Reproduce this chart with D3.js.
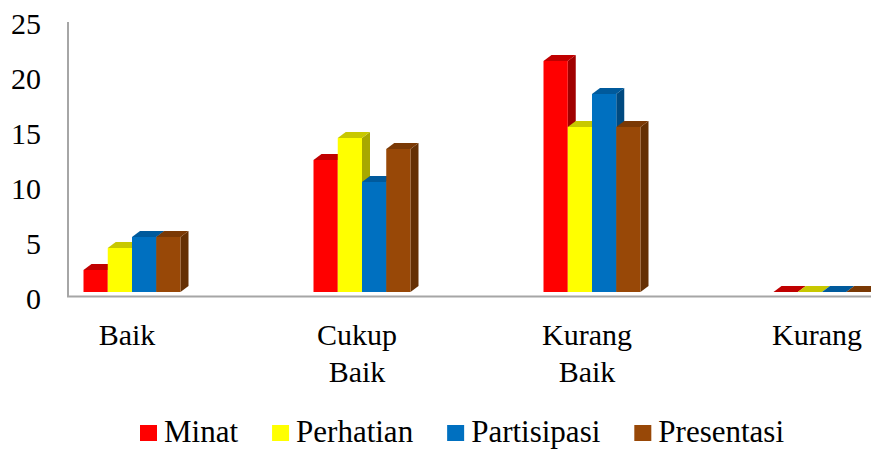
<!DOCTYPE html>
<html>
<head>
<meta charset="utf-8">
<script src="https://cdn.jsdelivr.net/npm/d3@7"></script>
<style>
  html, body { margin: 0; padding: 0; background: #fff; overflow: hidden; }
</style>
</head>
<body>
<div id="chart"></div>
<script>
// data
const categories = [["Baik"], ["Cukup", "Baik"], ["Kurang", "Baik"], ["Kurang"]];
const seriesNames = ["Minat", "Perhatian", "Partisipasi", "Presentasi"];
const minat       = [2, 12, 21, 0];
const perhatian   = [4, 14, 15, 0];
const partisipasi = [5, 10, 18, 0];
const presentasi  = [5, 13, 15, 0];
const yTicks = [0, 5, 10, 15, 20, 25];

const seriesValues = [minat, perhatian, partisipasi, presentasi];
// front / top / side shades
const colors = [
  { front: "#ff0000", top: "#c00000", side: "#a00000" },
  { front: "#ffff00", top: "#c8c800", side: "#a8a800" },
  { front: "#0070c0", top: "#005a9c", side: "#004a80" },
  { front: "#984807", top: "#7a3905", side: "#653004" }
];

const FONT = "Liberation Serif, Times New Roman, Times, Tinos, Noto Serif, DejaVu Serif, FreeSerif, serif";
const width = 871, height = 450;
const depthX = 8, depthY = -6;
const groupW = 97;
const barShift = 5;

const svg = d3.select("#chart").append("svg")
  .attr("width", width)
  .attr("height", height)
  .style("font-family", FONT);

const x = d3.scaleBand()
  .domain(d3.range(categories.length))
  .range([12, 932]);

const xs = d3.scaleBand()
  .domain(d3.range(seriesNames.length))
  .range([0, groupW]);

const y = d3.scaleLinear()
  .domain([0, 25])
  .range([292, 17]);

// axis lines
svg.append("line")
  .attr("x1", 68).attr("x2", 68)
  .attr("y1", 22).attr("y2", 296)
  .attr("stroke", "#a6a6a6").attr("stroke-width", 2);
svg.append("line")
  .attr("x1", 67).attr("x2", width)
  .attr("y1", 296.5).attr("y2", 296.5)
  .attr("stroke", "#a6a6a6").attr("stroke-width", 2);

// y tick labels
svg.selectAll("text.ytick")
  .data(yTicks)
  .enter()
  .append("text")
  .attr("class", "ytick")
  .attr("x", 41)
  .attr("y", d => y(d) + 6)
  .attr("dy", "0.35em")
  .attr("text-anchor", "end")
  .attr("font-size", 30)
  .text(d => d);

// bars, drawn left to right so the next front face covers the previous side
const bars = [];
categories.forEach((c, ci) => {
  seriesValues.forEach((vals, si) => {
    bars.push({ ci, si, v: vals[ci] });
  });
});

svg.selectAll("g.bar")
  .data(bars)
  .enter()
  .append("g")
  .attr("class", "bar")
  .each(function(d) {
    const g = d3.select(this);
    const x0 = x(d.ci) + x.bandwidth() / 2 - groupW / 2 + barShift + xs(d.si);
    const x1 = x0 + xs.bandwidth();
    const yb = y(0);
    const yt = y(d.v);
    const c = colors[d.si];
    // side face
    g.append("path")
      .attr("d", `M${x1},${yt}L${x1 + depthX},${yt + depthY}L${x1 + depthX},${yb + depthY}L${x1},${yb}Z`)
      .attr("fill", c.side);
    // top face
    g.append("path")
      .attr("d", `M${x0},${yt}L${x0 + depthX},${yt + depthY}L${x1 + depthX},${yt + depthY}L${x1},${yt}Z`)
      .attr("fill", c.top);
    // front face
    if (d.v > 0) {
      g.append("rect")
        .attr("x", x0)
        .attr("y", yt)
        .attr("width", xs.bandwidth())
        .attr("height", yb - yt)
        .attr("fill", c.front);
    }
  });

// category labels
const catG = svg.selectAll("text.cat")
  .data(categories)
  .enter()
  .append("text")
  .attr("class", "cat")
  .attr("x", (d, i) => x(i) + x.bandwidth() / 2)
  .attr("y", 345)
  .attr("text-anchor", "middle")
  .attr("font-size", 30);

catG.selectAll("tspan")
  .data(d => d)
  .enter()
  .append("tspan")
  .attr("x", function() { return d3.select(this.parentNode).attr("x"); })
  .attr("dy", (d, i) => i === 0 ? 0 : 37)
  .text(d => d);

// legend
const legend = svg.append("g").attr("transform", "translate(140,0)");
let lx = 0;
seriesNames.forEach((name, i) => {
  legend.append("rect")
    .attr("x", lx)
    .attr("y", 425)
    .attr("width", 17)
    .attr("height", 16)
    .attr("fill", colors[i].front);
  const t = legend.append("text")
    .attr("x", lx + 24)
    .attr("y", 442)
    .attr("font-size", 31)
    .text(name);
  lx += 24 + t.node().getComputedTextLength() + 34;
});
</script>
</body>
</html>
